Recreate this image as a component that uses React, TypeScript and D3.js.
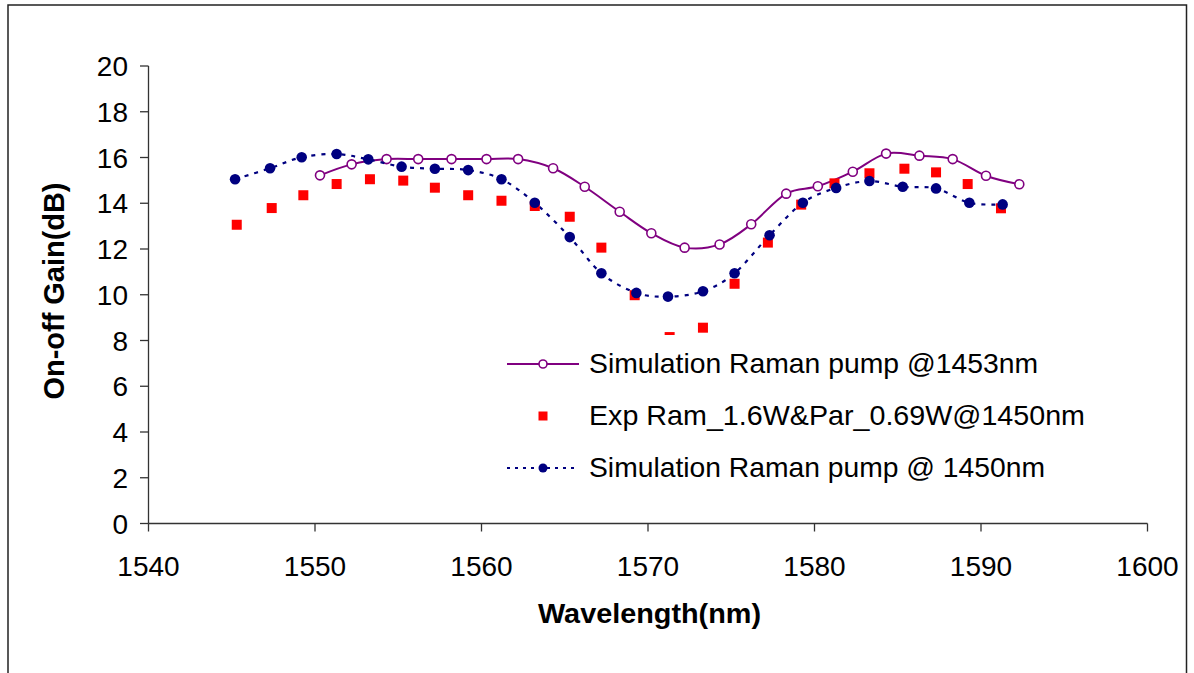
import React from "react";
import * as d3 from "d3";

const sim1453X = [1550.3, 1552.2, 1554.3, 1556.2, 1558.2, 1560.3, 1562.2, 1564.3, 1566.2, 1568.3, 1570.2, 1572.2, 1574.3, 1576.2, 1578.3, 1580.2, 1582.3, 1584.3, 1586.3, 1588.3, 1590.3, 1592.3];
const sim1453Y = [15.22, 15.70, 15.93, 15.93, 15.93, 15.93, 15.93, 15.53, 14.72, 13.63, 12.69, 12.06, 12.20, 13.08, 14.42, 14.74, 15.38, 16.17, 16.08, 15.93, 15.20, 14.83];

const expX = [1545.3, 1547.4, 1549.3, 1551.3, 1553.3, 1555.3, 1557.2, 1559.2, 1561.2, 1563.2, 1565.3, 1567.2, 1569.2, 1571.3, 1573.3, 1575.2, 1577.2, 1579.2, 1581.2, 1583.3, 1585.4, 1587.3, 1589.2, 1591.2];
const expY = [13.06, 13.79, 14.35, 14.84, 15.05, 14.99, 14.68, 14.35, 14.11, 13.88, 13.41, 12.06, 9.98, 8.15, 8.56, 10.48, 12.28, 13.94, 14.87, 15.31, 15.51, 15.35, 14.84, 13.78];

const sim1450X = [1545.2, 1547.3, 1549.2, 1551.3, 1553.2, 1555.2, 1557.2, 1559.2, 1561.2, 1563.2, 1565.3, 1567.2, 1569.3, 1571.2, 1573.3, 1575.2, 1577.3, 1579.3, 1581.3, 1583.3, 1585.3, 1587.3, 1589.3, 1591.3];
const sim1450Y = [15.05, 15.53, 16.01, 16.15, 15.92, 15.60, 15.51, 15.45, 15.05, 14.02, 12.52, 10.94, 10.08, 9.92, 10.15, 10.94, 12.60, 14.02, 14.67, 14.97, 14.72, 14.65, 14.02, 13.95];

const xTicks = [1540, 1550, 1560, 1570, 1580, 1590, 1600];
const yTicks = [0, 2, 4, 6, 8, 10, 12, 14, 16, 18, 20];

const seriesNames = [
  "Simulation Raman pump @1453nm",
  "Exp Ram_1.6W&Par_0.69W@1450nm",
  "Simulation Raman pump @ 1450nm",
];
const legendTextLen = [449, 496, 456];

const FONT = "'Liberation Sans', Arial, sans-serif";

export default function App() {
  const x = d3.scaleLinear().domain([1540, 1600]).range([148.5, 1147.5]);
  const y = d3.scaleLinear().domain([0, 20]).range([523.5, 66]);

  const pts = (xs: number[], ys: number[]) => xs.map((v, i) => [x(v), y(ys[i])] as [number, number]);
  const line = d3.line().curve(d3.curveCatmullRom.alpha(0));

  const p1453 = pts(sim1453X, sim1453Y);
  const pExp = pts(expX, expY);
  const p1450 = pts(sim1450X, sim1450Y);

  const legendX = 507;
  const legendYs = [364, 416, 468];

  return (
    <svg width={1194} height={673} style={{ position: "absolute", left: 0, top: 0 }} fontFamily={FONT}>
      <rect x={0} y={0} width={1194} height={673} fill="#fff" />
      <rect x={8} y={5} width={1178.5} height={700} fill="none" stroke="#222" strokeWidth={1.5} />

      {/* axes */}
      <line x1={x(1540)} x2={x(1600)} y1={y(0)} y2={y(0)} stroke="#333" strokeWidth={1.3} />
      <line x1={x(1540)} x2={x(1540)} y1={y(0)} y2={y(20)} stroke="#333" strokeWidth={1.3} />
      {yTicks.map((t) => (
        <g key={"y" + t}>
          <line x1={140} x2={x(1540)} y1={y(t)} y2={y(t)} stroke="#333" strokeWidth={1.3} />
          <text x={128} y={y(t) + 10} textAnchor="end" fontSize={28} fill="#000">{t}</text>
        </g>
      ))}
      {xTicks.map((t) => (
        <g key={"x" + t}>
          <line x1={x(t)} x2={x(t)} y1={y(0)} y2={y(0) + 8} stroke="#333" strokeWidth={1.3} />
          <text x={x(t)} y={576} textAnchor="middle" fontSize={28} fill="#000">{t}</text>
        </g>
      ))}

      {/* axis titles */}
      <text x={649.5} y={623} textAnchor="middle" fontSize={28} fontWeight="bold" textLength={223} lengthAdjust="spacingAndGlyphs">Wavelength(nm)</text>
      <text transform="translate(64,291) rotate(-90)" textAnchor="middle" fontSize={29} fontWeight="bold" textLength={217} lengthAdjust="spacingAndGlyphs">On-off Gain(dB)</text>

      {/* series 1453 */}
      <path d={line(p1453) || ""} fill="none" stroke="#800080" strokeWidth={2} />
      {p1453.map((p, i) => (
        <circle key={"a" + i} cx={p[0]} cy={p[1]} r={4.5} fill="#fff" stroke="#800080" strokeWidth={1.6} />
      ))}

      {/* series 1450 */}
      <path d={line(p1450) || ""} fill="none" stroke="#000080" strokeWidth={2.2} strokeDasharray="4 6" />

      {/* exp */}
      {pExp.map((p, i) => (
        <rect key={"e" + i} x={p[0] - 5} y={p[1] - 5} width={10} height={10} fill="#ff0000" />
      ))}
      {p1450.map((p, i) => (
        <circle key={"b" + i} cx={p[0]} cy={p[1]} r={5.3} fill="#000080" />
      ))}

      {/* legend */}
      <rect x={497} y={335} width={598} height={165} fill="#fff" />
      <line x1={legendX} x2={legendX + 72} y1={legendYs[0]} y2={legendYs[0]} stroke="#800080" strokeWidth={2} />
      <circle cx={legendX + 36} cy={legendYs[0]} r={4} fill="#fff" stroke="#800080" strokeWidth={1.6} />
      <rect x={legendX + 31.5} y={legendYs[1] - 4.5} width={9} height={9} fill="#ff0000" />
      <line x1={legendX} x2={legendX + 72} y1={legendYs[2]} y2={legendYs[2]} stroke="#000080" strokeWidth={2} strokeDasharray="3 5" />
      <circle cx={legendX + 36} cy={legendYs[2]} r={4.5} fill="#000080" />
      {seriesNames.map((n, i) => (
        <text key={n} x={589} y={legendYs[i] + 9} fontSize={28} textLength={legendTextLen[i]} lengthAdjust="spacingAndGlyphs">{n}</text>
      ))}
    </svg>
  );
}
